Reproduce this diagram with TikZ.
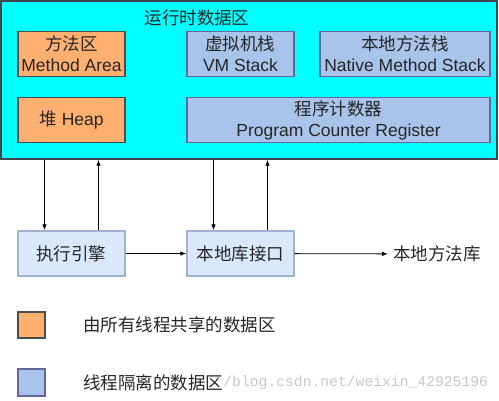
\documentclass[tikz,border=0pt]{standalone}
\usepackage{fontspec}
\setmainfont{Liberation Sans}
\newfontfamily\cjk{Noto Sans CJK SC}
\newfontfamily\wmfont{Liberation Mono}
\usetikzlibrary{arrows.meta,positioning}
\definecolor{areacyan}{HTML}{00FFFF}
\definecolor{sharedorange}{HTML}{FFB071}
\definecolor{privblue}{HTML}{A9C4EB}
\definecolor{paleblue}{HTML}{DAE8FC}
\definecolor{paleedge}{HTML}{9DB3CF}
\tikzset{
  box/.style={draw, line width=1.3pt, minimum height=45pt, inner sep=0pt,
    align=center, font=\fontsize{17.5}{21}\selectfont, text=black!85},
  shared/.style={box, fill=sharedorange, draw=black!70},
  private/.style={box, fill=privblue, draw=black!65!blue!60},
  unit/.style={box, fill=paleblue, draw=paleedge},
  txt/.style={font=\fontsize{17.5}{21}\selectfont, text=black!85, inner sep=0pt}
}
\begin{document}
\begin{tikzpicture}[x=1pt, y=-1pt, >={Latex[length=6pt,width=4.5pt]}, line width=0.8pt]
\useasboundingbox (0,0) rectangle (499,401);
% runtime data area
\node[draw=black!80!cyan, line width=1.5pt, fill=areacyan, minimum width=496pt,
  minimum height=158pt, inner sep=0pt] (rt) at (249,80) {};
\node[txt] (title) at (197,18) {\cjk 运行时数据区};
\node[shared, minimum width=107pt] (ma) at (71.5,54) {{\cjk 方法区}\\Method Area};
\node[private, minimum width=107pt] (vm) at (240.5,54) {{\cjk 虚拟机栈}\\VM Stack};
\node[private, minimum width=170pt] (nm) at (405,54) {{\cjk 本地方法栈}\\Native Method Stack};
\node[shared, minimum width=107pt] (heap) at (71.5,120) {{\cjk 堆} Heap};
\node[private, minimum width=303pt] (pc) at (338.5,120) {{\cjk 程序计数器}\\Program Counter Register};
% engine and native interface
\node[unit, minimum width=107pt] (ee) at (71.5,253.5) {\cjk 执行引擎};
\node[unit, minimum width=107pt] (ni) at (240.5,253.5) {\cjk 本地库接口};
\node[txt, anchor=west] (lib) at (388,254) {\hspace{5pt}\cjk 本地方法库};
\foreach \n in {ee,ni}{
  \coordinate (\n d) at ([xshift=-27pt]\n.north);
  \coordinate (\n u) at ([xshift=27pt]\n.north);
  \draw[->] (\n d |- rt.south) -- (\n d);
  \draw[->] (\n u) -- (\n u |- rt.south);
}
\draw[->] (ee) -- (ni);
\draw[->] (ni) -- (lib);
% legend
\node[shared, line width=1.2pt, minimum width=27pt, minimum height=26pt] (k1) at (31.5,325) {};
\node[private, line width=1.2pt, minimum width=27pt, minimum height=27pt] (k2) at (31.5,382.5) {};
\node[txt, anchor=west] (t1) at (83,325) {\cjk 由所有线程共享的数据区};
\node[txt, anchor=west] (t2) at (83,383) {\cjk 线程隔离的数据区};
\node[anchor=west, inner sep=0pt, text=black!22, font=\wmfont\fontsize{14.7}{16}\selectfont]
  (wm) at (223,383) {/blog.csdn.net/weixin\_42925196};
\end{tikzpicture}
\end{document}
